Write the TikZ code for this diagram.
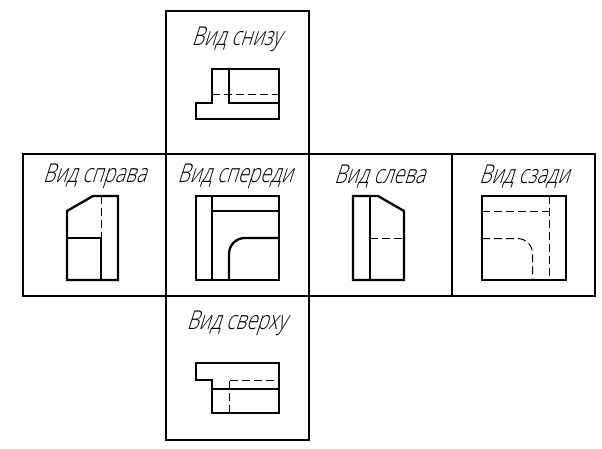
\documentclass[tikz,border=0pt]{standalone}
\usepackage{fontspec}
\newfontfamily\gost[FakeSlant=0.32,FakeStretch=0.745]{Open Sans Light}
\tikzset{
  frame/.style={draw=black,line width=2.3pt,fill=none},
  solidline/.style={draw=black,line width=2.3pt,line join=miter},
  hidden/.style={draw=black,line width=1pt,dash pattern=on 8pt off 4pt},
  viewlabel/.style={font=\gost\fontsize{26}{28}\selectfont,inner sep=0pt,text=black}
}
\begin{document}
\begin{tikzpicture}[x=1pt,y=-1pt]
\useasboundingbox (0,0) rectangle (602,449);
% frames
\draw[frame] (166,154) -- (166,11) -- (309,11) -- (309,154);
\draw[frame] (23,154) rectangle (595,296);
\draw[frame] (166,154) -- (166,296);
\draw[frame] (309,154) -- (309,296);
\draw[frame] (452,154) -- (452,296);
\draw[frame] (166,296) -- (166,440) -- (309,440) -- (309,296);
% labels
\node[viewlabel] (lbottom) at (236.5,39.5) {Вид снизу};
\node[viewlabel] (lright) at (94.5,176.5) {Вид справа};
\node[viewlabel] (lfront) at (235,176.5) {Вид спереди};
\node[viewlabel] (lleft) at (379.5,176.5) {Вид слева};
\node[viewlabel] (lback) at (524,176.5) {Вид сзади};
\node[viewlabel] (ltop) at (236.5,323.5) {Вид сверху};
% view from below
\draw[hidden] (212,94.5) -- (279,94.5);
\draw[solidline] (212,69) -- (279,69) -- (279,119) -- (196,119) -- (196,103) -- (212,103) -- cycle;
\draw[solidline] (229,69) -- (229,103) -- (279,103);
% right view
\draw[hidden] (101.5,196) -- (101.5,238);
\draw[solidline] (67,211) -- (93,196) -- (118,196) -- (118,280) -- (67,280) -- cycle;
\draw[solidline] (67,238) -- (101,238) -- (101,280);
% front view
\draw[solidline] (196,196) rectangle (279,280);
\draw[solidline] (212,196) -- (212,280);
\draw[solidline] (212,211) -- (279,211);
\draw[solidline] (279,238) -- (245,238) .. controls (236,238) and (229,245) .. (229,254) -- (229,280);
% left view
\draw[solidline] (353,196) -- (378,196) -- (404,211) -- (404,280) -- (353,280) -- cycle;
\draw[solidline] (370,196) -- (370,280);
\draw[hidden] (370,238.5) -- (404,238.5);
% back view
\draw[solidline] (482,196) rectangle (566,280);
\draw[hidden] (482,211.5) -- (549.5,211.5);
\draw[hidden] (549.5,196) -- (549.5,280);
\draw[hidden] (482,238.5) -- (517,238.5) .. controls (526,238.5) and (532.5,245) .. (532.5,254) -- (532.5,280);
% top view
\draw[solidline] (196,363) -- (279,363) -- (279,413) -- (212,413) -- (212,380) -- (196,380) -- cycle;
\draw[solidline] (212,389) -- (279,389);
\draw[hidden] (229.5,380.5) -- (279,380.5);
\draw[hidden] (229.5,380.5) -- (229.5,413);
\end{tikzpicture}
\end{document}
